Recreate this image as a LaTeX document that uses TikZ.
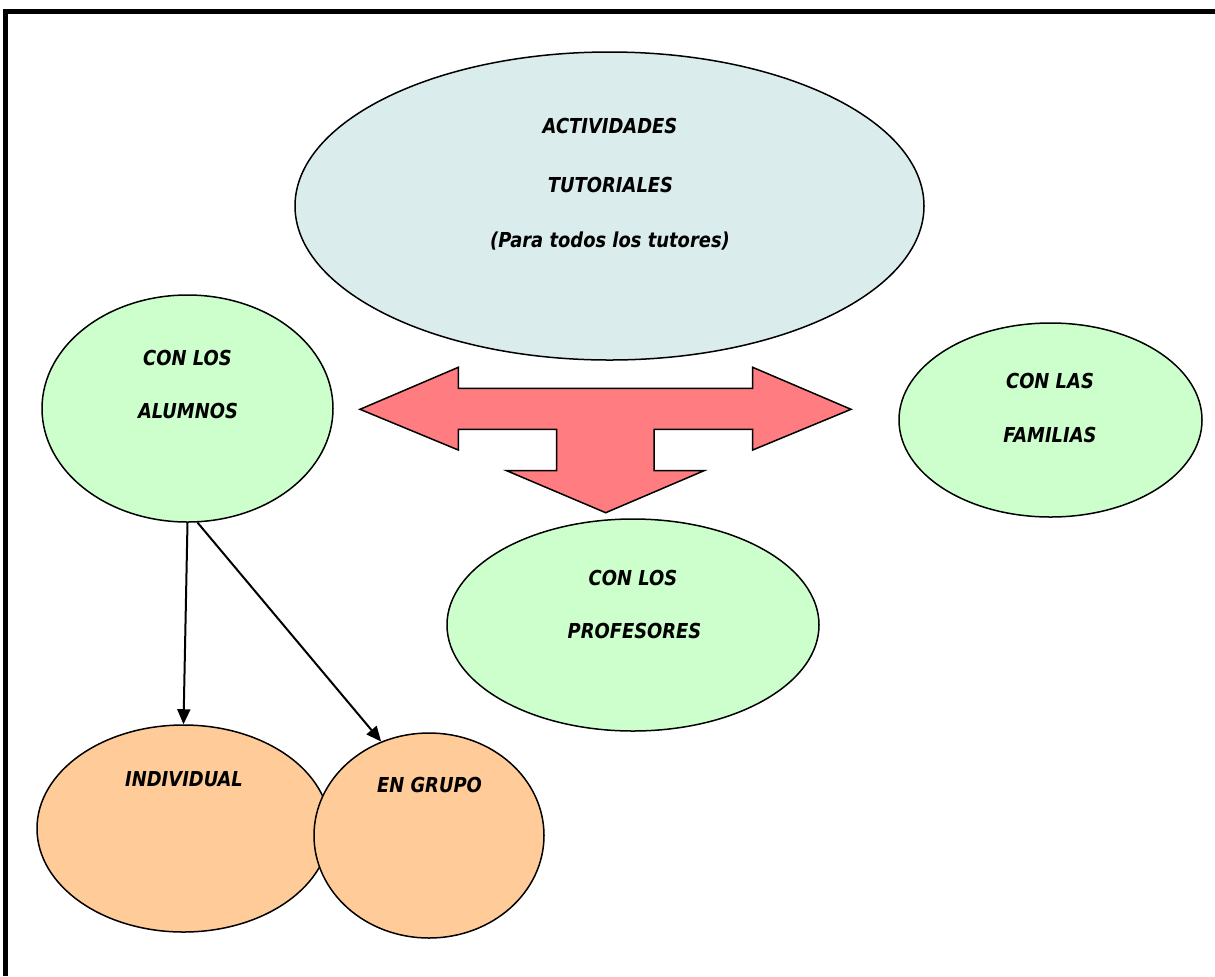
\documentclass[tikz,border=0pt]{standalone}
\usepackage{fontspec}
\setmainfont{DejaVu Sans}[FakeStretch=0.87]
\usetikzlibrary{shapes.geometric,arrows.meta,positioning}

\definecolor{tutorblue}{RGB}{218,236,236}
\definecolor{bubblegreen}{RGB}{204,255,204}
\definecolor{bubbleorange}{RGB}{255,204,153}
\definecolor{arrowred}{RGB}{255,124,128}

\tikzset{
  bubble/.style={ellipse, draw, line width=0.75pt, inner sep=0pt},
  lbl/.style={font=\fontsize{10.3}{12}\selectfont\bfseries\itshape, inner sep=0pt},
  link/.style={line width=1pt, -{Triangle[length=7.5pt,width=6.5pt]}},
}

\begin{document}
\begin{tikzpicture}[x=0.5pt,y=-0.5pt]
    \useasboundingbox (0,0) rectangle (1215,976);
    \draw[line width=2.5pt] (5.5,976) -- (5.5,11.5) -- (1215,11.5);

    % bubbles
    \node[bubble, fill=tutorblue, minimum width=314.5pt, minimum height=154pt] (tutorias) at (609.5,206) {};
    \node[bubble, fill=bubblegreen, minimum width=145.5pt, minimum height=113.5pt] (alumnos) at (187.5,408.5) {};
    \node[bubble, fill=bubblegreen, minimum width=151.5pt, minimum height=97pt] (familias) at (1050.5,420) {};
    \node[bubble, fill=bubblegreen, minimum width=186pt, minimum height=106pt] (profesores) at (633,625) {};
    \node[bubble, fill=bubbleorange, minimum width=146.5pt, minimum height=103.5pt] (individual) at (183.5,828.5) {};
    \node[bubble, fill=bubbleorange, minimum width=115pt, minimum height=102.5pt] (grupo) at (429,835.5) {};

    % three-way arrow
    \draw[line width=0.75pt, fill=arrowred, line join=miter]
        (360,409.3) -- (458.3,367.3) -- (458.3,388.3) -- (752.7,388.3) -- (752.7,367.3)
        -- (851,409.3) -- (752.7,450) -- (752.7,429.3) -- (654,429.3) -- (654,470.7)
        -- (704,470.7) -- (605.7,512.7) -- (506.7,470.7) -- (556.7,470.7) -- (556.7,429.3)
        -- (458.3,429.3) -- (458.3,450) -- cycle;

    % texts
    \node[lbl] (tutoriasA) at (610,126) {ACTIVIDADES};
    \node[lbl] (tutoriasB) at (610.5,185) {TUTORIALES};
    \node[lbl] (tutoriasC) at (610,241) {(Para todos los tutores)};
    \node[lbl] (alumnosA) at (187.5,357.5) {CON LOS};
    \node[lbl] (alumnosB) at (188,410.5) {ALUMNOS};
    \node[lbl] (familiasA) at (1050,380.5) {CON LAS};
    \node[lbl] (familiasB) at (1050,435) {FAMILIAS};
    \node[lbl] (profesoresA) at (633,578) {CON LOS};
    \node[lbl] (profesoresB) at (634.5,630.5) {PROFESORES};
    \node[lbl] (individualA) at (184,779) {INDIVIDUAL};
    \node[lbl] (grupoA) at (429.5,785) {EN GRUPO};

    % links
    \draw[link] (alumnos.south) -- (individual.north);
    \draw[link] (alumnos.-85) -- (grupo.117);
\end{tikzpicture}
\end{document}
